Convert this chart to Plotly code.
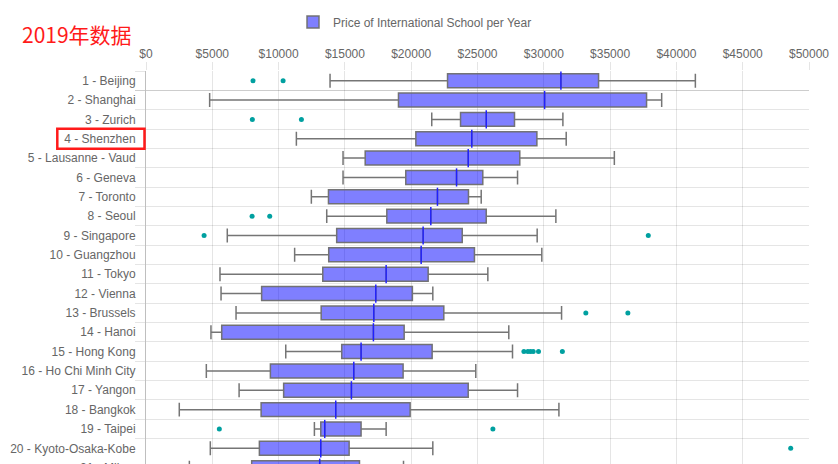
import plotly.graph_objects as go

categories = ["1 - Beijing", "2 - Shanghai", "3 - Zurich", "4 - Shenzhen", "5 - Lausanne - Vaud",
              "6 - Geneva", "7 - Toronto", "8 - Seoul", "9 - Singapore", "10 - Guangzhou",
              "11 - Tokyo", "12 - Vienna", "13 - Brussels", "14 - Hanoi", "15 - Hong Kong",
              "16 - Ho Chi Minh City", "17 - Yangon", "18 - Bangkok", "19 - Taipei",
              "20 - Kyoto-Osaka-Kobe", "21 - Milan"]
lower = [13880, 4800, 21550, 11340, 14860, 14860, 12470, 13630, 6130, 11210,
         5580, 5660, 6790, 4900, 10540, 4550, 7020, 2510, 12700, 4850, 3270]
q1 = [22740, 19040, 23720, 20350, 16530, 19590, 13760, 18160, 14380, 13780,
      13330, 8720, 13210, 5710, 14760, 9380, 10380, 8680, 13180, 8550, 7970]
median = [31290, 30060, 25660, 24570, 24300, 23420, 21980, 21480, 20900, 20750,
          18110, 17330, 17180, 17150, 16220, 15670, 15490, 14310, 13480, 13180, 13100]
q3 = [34130, 37750, 27790, 29480, 28190, 25400, 24320, 25660, 23850, 24770,
      21280, 20090, 22460, 19470, 21580, 19390, 24300, 19920, 16220, 15320, 16100]
upper = [41430, 38890, 31440, 31690, 35320, 28020, 25280, 30910, 29500, 29850,
         25780, 21630, 31340, 27360, 27640, 24870, 28020, 31140, 18110, 21630, 19420]
outliers = [[8070, 10340], [], [8020, 11720], [], [], [], [], [8000, 9330], [4380, 37880], [],
            [], [], [33170, 36340], [], [28500, 28800, 29000, 29200, 29600, 31400],
            [], [], [], [5530, 26160], [48620], []]

tick_vals = [0, 5000, 10000, 15000, 20000, 25000, 30000, 35000, 40000, 45000, 50000]
tick_text = ["$0", "$5000", "$10000", "$15000", "$20000", "$25000", "$30000",
             "$35000", "$40000", "$45000", "$50000"]

series_name = "Price of International School per Year"
title_text = "2019年数据"

OFF = 8  # page body margin
W, H = 838 - OFF, 464 - OFF
L, R, T = 146 - OFF, 29, 71 - OFF
row_px = 19.35
plot_h = H - T
plot_w = W - L - R

fig = go.Figure()
fig.add_trace(go.Box(
    y=categories, q1=q1, median=median, q3=q3, lowerfence=lower, upperfence=upper,
    orientation="h", name=series_name, width=0.72, whiskerwidth=1,
    fillcolor="rgba(0,0,255,0.5)", line=dict(color="rgba(110,110,110,0.95)", width=1.5),
    boxpoints=False, hoverinfo="skip", showlegend=True,
))
fig.add_trace(go.Scatter(
    x=median, y=categories, mode="markers", showlegend=False, hoverinfo="skip",
    marker=dict(symbol="line-ns", size=13, line=dict(color="#2020FF", width=1.5)),
))
ox, oy = [], []
for cat, vals in zip(categories, outliers):
    for v in vals:
        ox.append(v)
        oy.append(cat)
fig.add_trace(go.Scatter(
    x=ox, y=oy, mode="markers", showlegend=False, hoverinfo="skip",
    marker=dict(color="#00A0A0", size=5),
))

grid = "rgba(0,0,0,0.1)"
font_family = "Arial, Liberation Sans, sans-serif"
n_rows = plot_h / row_px

fig.update_layout(
    width=W, height=H,
    margin=dict(l=L, r=R, t=T, b=0, pad=0),
    paper_bgcolor="white", plot_bgcolor="white",
    font=dict(family=font_family, size=12, color="#666"),
    title=dict(text=title_text, x=(22 - OFF) / W, xref="container", xanchor="left",
               y=1 - (36 - OFF) / H, yref="container", yanchor="middle",
               font=dict(family="Noto Sans CJK SC", size=21, color="#FF1A1A")),
    showlegend=True,
    legend=dict(orientation="h", xref="container", yref="container",
                x=(415 - OFF) / W, xanchor="center", y=1 - (22 - OFF) / H, yanchor="middle",
                font=dict(size=12, color="#666"), bgcolor="rgba(0,0,0,0)"),
    xaxis=dict(side="top", range=[0, 50000], tickvals=tick_vals, ticktext=tick_text,
               showgrid=True, gridcolor=grid, gridwidth=1, zeroline=False,
               ticks="outside", ticklen=8, tickcolor=grid, showline=False,
               ticklabelstandoff=-1,
               tickfont=dict(size=12, color="#666")),
    yaxis=dict(type="category", categoryorder="array", categoryarray=categories,
               range=[-0.5 + n_rows, -0.5], tickson="boundaries",
               showgrid=True, gridcolor=grid, gridwidth=1, zeroline=False,
               ticks="outside", ticklen=10, tickcolor=grid, ticklabelstandoff=7,
               showline=True, linecolor="rgba(0,0,0,0.25)", linewidth=1,
               tickfont=dict(size=12, color="#666")),
)

# partially visible label of the cut-off 21st row
fig.add_annotation(text=categories[-1], xref="paper", yref="paper",
                   x=(135 - 146) / plot_w, xanchor="right",
                   y=1 - (row_px * 20.5) / plot_h, yanchor="middle",
                   showarrow=False, font=dict(size=12, color="#666"))

# red highlight frame around the Shenzhen label
fig.add_shape(type="rect", xref="paper", yref="paper",
              x0=(57.3 - 146) / plot_w, x1=(144.5 - 146) / plot_w,
              y0=1 - (128.8 - 71) / plot_h, y1=1 - (148.8 - 71) / plot_h,
              line=dict(color="#FF1A1A", width=2.5), fillcolor="rgba(0,0,0,0)")

fig.write_html("out.html")
